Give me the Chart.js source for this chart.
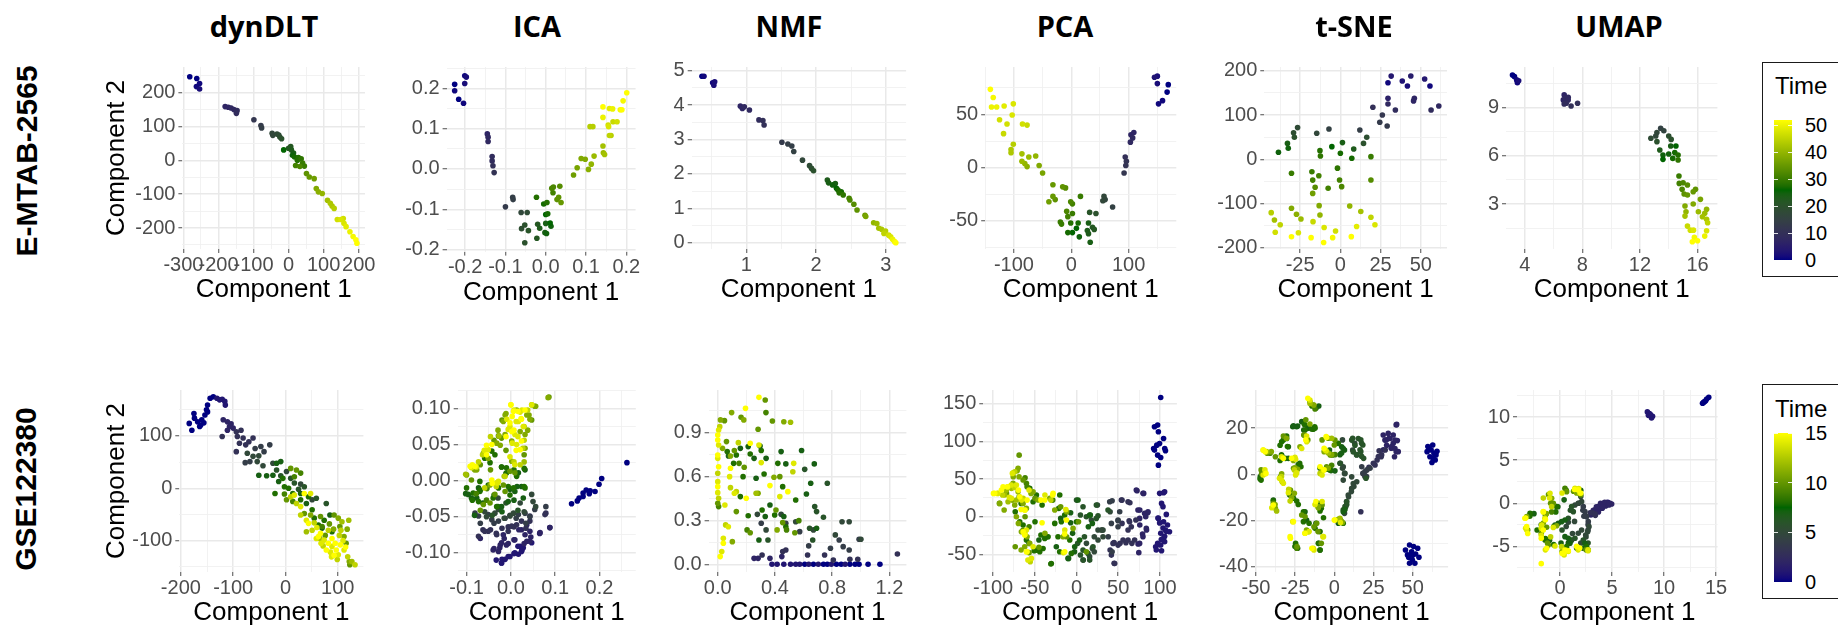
<!DOCTYPE html>
<html><head><meta charset="utf-8">
<script src="https://cdn.jsdelivr.net/npm/chart.js@4"></script>
<style>
html,body{margin:0;padding:0;background:#fff}
body{width:1838px;height:626px;position:relative;overflow:hidden;font-family:"Liberation Sans",Arial,sans-serif}
canvas{position:absolute}
.ttl{position:absolute;font-family:"Open Sans",sans-serif;font-weight:700;font-size:29px;color:#000;transform:translate(-50%,-50%);white-space:nowrap;line-height:1}
.row{position:absolute;font-family:"Liberation Sans",Arial,sans-serif;font-weight:700;font-size:30px;color:#000;transform:translate(-50%,-50%) rotate(-90deg);white-space:nowrap;line-height:1}
.legbox{position:absolute;border:1.5px solid #1a1a1a;box-sizing:border-box;background:#fff}
.legttl{position:absolute;font-size:24px;color:#000;line-height:1;transform:translateY(-50%)}
.leglab{position:absolute;font-size:20px;color:#000;line-height:1;transform:translateY(-50%)}
.bar{position:absolute}
.btick{position:absolute;height:1px;background:rgba(255,255,255,0.85);width:4px}
</style>
</head><body>
<script>
// ---------------- DATA ----------------
const colTitles = ["dynDLT","ICA","NMF","PCA","t-SNE","UMAP"];
const rowTitles = ["E-MTAB-2565","GSE122380"];
const legendTopTicks = [0,10,20,30,40,50];
const legendBottomTicks = [0,5,10,15];

// E-MTAB-2565  [component1, component2, time]
const mtabDynDLT = [
[-282,247,0],[-262,242,0],[-254,227,1],[-263,218,1],[-254,211,2],
[-181,159,7],[-172,157,7],[-164,155,8],[-156,150,8],[-147,147,9],[-149,139,9],
[-99,120,12],[-79,103,13],[-77,96,14],
[-47,80,17],[-45,74,17],[-33,78,18],[-28,75,18],[-25,69,19],[-20,64,20],
[0,36,22],[6,41,22],[8,31,23],[14,22,24],[11,15,25],[-14,31,26],[17,10,27],[28,8,28],[25,0,28],[36,5,29],
[20,-15,31],[32,-18,32],[45,-17,30],[40,-8,30],
[51,-39,34],[59,-49,35],[73,-54,36],
[79,-83,38],[85,-93,39],[96,-98,40],
[111,-118,42],[119,-127,43],[124,-135,43],[130,-142,44],
[139,-175,47],[149,-175,48],[156,-172,47],[158,-186,48],[164,-196,49],
[175,-211,50],[184,-225,51],[192,-235,52],[195,-245,52]];
const mtabICA = [
[-0.226,0.210,0],[-0.226,0.194,1],[-0.201,0.231,1],[-0.197,0.228,2],[-0.201,0.212,2],[-0.216,0.173,0],[-0.204,0.163,1],
[-0.145,0.087,7],[-0.143,0.079,8],[-0.143,0.068,8],
[-0.133,0.031,9],[-0.133,0.020,9],[-0.131,0.008,10],[-0.128,-0.009,11],
[-0.100,-0.094,13],[-0.082,-0.070,14],[-0.081,-0.076,14],
[-0.061,-0.108,17],[-0.046,-0.108,18],[-0.060,-0.148,19],[-0.052,-0.139,20],[-0.043,-0.153,21],[-0.052,-0.183,20],
[-0.023,-0.070,28],[-0.020,-0.137,22],[-0.015,-0.147,23],[-0.022,-0.172,22],
[-0.005,-0.087,27],[0.003,-0.083,28],[0.0,-0.113,26],[0.005,-0.111,27],[0.0,-0.135,24],[-0.002,-0.158,24],[0.002,-0.160,25],[0.011,-0.134,26],[0.013,-0.142,25],
[0.018,-0.059,31],[0.015,-0.048,32],[0.019,-0.045,32],[0.035,-0.043,33],[0.028,-0.076,34],[0.032,-0.070,34],[0.038,-0.083,35],
[0.069,-0.015,36],[0.078,0.003,37],[0.088,0.026,38],[0.098,0.024,38],[0.106,-0.001,39],[0.113,0.012,40],[0.120,0.032,41],
[0.110,0.105,44],[0.117,0.105,44],[0.142,0.057,42],[0.143,0.040,41],[0.146,0.036,42],
[0.142,0.154,52],[0.142,0.128,50],[0.158,0.150,49],[0.155,0.109,47],[0.158,0.083,45],[0.167,0.117,46],
[0.166,0.149,50],[0.192,0.169,51],[0.201,0.189,52],[0.185,0.147,51],[0.189,0.147,52],[0.177,0.117,47],[0.162,0.083,44],[0.156,0.105,48]];
const mtabNMF = [
[0.365,4.84,0],[0.394,4.84,1],[0.518,4.65,1],[0.535,4.58,2],[0.547,4.68,2],
[0.915,3.97,7],[0.943,3.90,7],[0.972,3.95,8],[1.045,3.86,8],
[1.181,3.57,9],[1.238,3.55,10],[1.255,3.42,10],
[1.510,2.92,13],[1.595,2.87,14],[1.652,2.81,14],[1.680,2.65,15],
[1.805,2.40,17],[1.906,2.24,18],[1.935,2.16,19],[1.963,2.09,20],
[2.161,1.82,23],[2.178,1.74,24],[2.235,1.68,25],[2.275,1.72,24],[2.292,1.58,26],[2.314,1.53,27],[2.331,1.45,28],[2.360,1.48,27],[2.388,1.39,29],
[2.473,1.29,31],[2.484,1.24,32],[2.541,1.12,33],[2.586,0.95,34],
[2.700,0.80,36],[2.711,0.76,37],
[2.824,0.58,40],[2.870,0.56,41],[2.898,0.42,42],[2.938,0.39,43],[2.972,0.27,45],[2.994,0.34,44],
[3.040,0.22,47],[3.068,0.17,48],[3.096,0.10,50],[3.125,0.03,51],[3.142,0.0,52]];
const mtabPCA = [
[-141,73.6,52],[-136,66,51],[-139,57,50],[-130,57,50],[-117,58,49],[-101,60,48],[-103,49.5,48],[-125,45,47],[-112,41,47],[-118,32,46],[-101,22,44],[-105,17,43],[-105,14,43],
[-85,41,47],[-77,40,46],[-86,13,42],[-74,10,41],[-62,11,40],[-86,6,41],[-81,4,40],[-77,1,39],[-56,2,38],[-50,-5,37],
[-32,-16,35],[-15,-18,34],[-10,-19,33],[-39,-32,36],[-32,-27,35],[-28,-30,34],
[16,-27,30],[-1,-32,32],[2,-34,31],[-8,-41,32],[-6,-46,31],[2,-43,30],
[-19,-51,30],[-17,-53,30],[-1,-52,28],[12,-52,27],[-6,-61,27],[2,-61,26],[9,-57,26],[14,-65,25],
[30,-52,24],[28,-59,23],[30,-62,23],[33,-70,24],[37,-56,22],[40,-58,22],[32,-42,21],[43,-43,20],
[57,-27,17],[59,-30,16],[55,-31,17],[72,-37,15],
[92,-5,12],[95,2,11],[96,6,11],[94,10,10],
[103,24,8],[107,28,8],[104,31,7],[109,33,7],
[145,85,3],[150,86,2],[150,79,2],[169,78,0],[167,71,0],[159,63,1],[152,60,1]];
const mtabTSNE = [
[-43.0,-120.5,44],[-41.0,-137,42],[-37.4,-148,45],[-40.5,-165,47],
[-38.5,15.8,25],[-32.9,36,24],[-32.4,25,25],[-30.4,-31.6,30],
[-28.6,50,20],[-29.1,60,19],[-26.6,71.6,18],
[-30.4,-110.7,38],[-27.3,-124,39],[-24.5,-135,41],
[-30.4,-175,52],[-26.1,-166,48],
[-17.7,-28,30],[-17.2,-47,31],[-17.2,-77,36],[-15.7,-63,33],[-13.4,-37,31],
[-14.7,59,17],[-12.7,19.6,28],[-12.4,7.5,29],
[-7.1,68.5,15],[-5.3,28.6,26],[-7.6,-65.5,31],
[-13.2,-104.7,38],[-12.7,-125.8,40],[-17.0,-140.9,46],[-18.2,-177,53],[-10.1,-154,48],[-10.4,-188,52],[-4.8,-177,51],[-3.0,-162,47],
[-1.8,-20,29],[-0.5,-46.7,31],[0.8,-61.8,32],[0.0,13.6,27],[1.3,37.7,24],[7.1,2.3,27],[8.3,23.4,23],
[5.8,-105.5,40],[6.8,-174.8,52],[10.1,-152,49],[12.7,-118,42],
[12.1,66.3,14],[14.4,36,20],[16.4,49.7,19],
[19,-46.7,33],[19,6,30],[19,-131,45],[21.5,-148,48],
[20.2,117.5,10],[24.5,83.6,13],[26.1,100.2,12],[29.1,75.3,13],
[29.6,137.9,6],[29.6,125,8],[29.6,173,1],[31.6,188,4],[34.2,111.5,9],
[38.5,177,3],[41.7,165.7,2],[43.8,188.3,5],[46,137.9,7],[45.5,132,7],
[52.4,181.5,4],[55.7,165.7,1],[56.4,111.5,9],[61.2,120.5,8]];
const mtabUMAP = [
[3.15,11.0,0],[3.29,10.9,0],[3.44,10.7,1],[3.49,10.53,1],[3.58,10.64,2],
[6.74,9.77,7],[6.82,9.56,8],[6.68,9.46,7],[7.02,9.62,8],[6.88,9.25,9],[7.22,9.08,10],[7.67,9.25,10],[6.74,9.21,9],[7.02,9.46,8],
[13.44,7.70,15],[13.66,7.55,16],[13.18,7.43,17],[12.76,7.08,18],[13.10,7.22,17],[13.18,6.87,20],[14.0,7.22,19],[14.17,7.01,20],[13.38,6.35,23],[13.6,6.04,25],[13.6,5.77,26],[14.0,6.10,25],[14.14,6.60,24],[14.28,5.83,27],[14.5,6.60,26],[14.42,6.19,27],[14.65,6.04,28],[14.65,5.73,29],
[14.71,4.74,30],[14.73,4.28,31],[15.0,4.32,32],[15.3,4.18,33],[14.93,3.91,32],[15.07,3.62,34],[15.3,3.56,35],[15.7,3.76,35],[15.86,3.91,34],[15.13,2.88,38],[15.7,3.0,38],[16.2,3.29,37],[15.2,2.52,40],[16.06,2.52,41],[16.34,2.21,42],[16.63,2.67,40],[16.5,2.42,41],[16.63,2.05,43],[15.13,2.25,42],[15.3,1.63,46],[15.5,1.38,47],[15.72,1.38,48],[15.78,0.93,51],[15.64,0.66,52],[16.0,0.72,52],[16.5,1.01,50],[16.63,1.34,48],[16.7,1.84,45]];

// GSE122380  [component1, component2, time]
const gseDynDLT = [
[-184,124,0],[-179,111,0],[-175,143,0],[-174,134,0],[-168,127,0],[-164,118,0],[-160,131,0],[-162,121,0],[-156,125,0],[-154,140,0],[-151,150,0],[-149,146,0],[-149,159,0],[-144,172,0],[-138,175,0],[-131,172,1],[-126,169,1],[-121,170,1],[-116,166,1],[-115,159,1],
[-119,131,2],[-111,127,2],[-104,123,2],[-121,99,3],[-111,111,2],[-107,118,2],[-100,115,2],[-94,108,3],[-92,99,3],[-85,111,3],[-88,86,3],[-81,96,3],[-94,70,3],[-76,83,3],[-70,89,3],[-62,96,3],[-58,76,4],[-47,80,4],[-41,70,4],[-30,83,4],[-77,49,4],[-68,51,4],
[-62,61,5],[-51,62,5],[-73,67,5],[-54,51,5],[-43,43,5],[-24,48,5],[-17,35,6],[-9,24,6],[2,32,5],[10,19,6],[17,10,6],[29,8,5],[36,3,6],[25,-2,6],[51,-22,5],[59,-19,6],[78,-29,6],
[-51,25,7],[-36,24,7],[-24,25,7],[-20,-10,8],[-13,13,7],[-5,19,8],[-2,3,8],[6,0,8],[14,-10,8],[29,-10,7],[29,-22,8],[40,-29,7],[44,-16,8],[51,-41,8],[55,-57,8],[63,-70,8],[70,-76,7],[74,-61,8],[85,-51,7],[89,-83,8],[-17,48,7],[-9,51,7],
[10,38,10],[21,35,10],[29,29,9],[17,22,9],[-2,-11,9],[2,-22,10],[14,-25,9],[36,-48,10],[48,-51,11],[67,-54,10],[70,-73,9],[93,-51,10],[101,-57,11],[104,-73,10],[112,-92,11],[116,-105,10],[122,-140,11],[123,-146,10],
[84,-68,10],[92,-78,11],[76,-90,10],[118,-78,11],
[10,-16,13],[17,-13,14],[21,-29,13],[29,-35,14],[36,-10,15],[48,-10,14],[29,-51,13],[40,-61,14],[44,-67,15],[51,-80,13],[59,-96,14],[67,-86,15],[74,-99,14],[82,-105,15],[89,-111,14],[97,-118,15],[101,-127,14],[95,-105,15],[106,-80,13],[112,-118,14],[119,-131,13],[127,-140,12],[133,-146,13],[108,-64,12],[121,-61,12],[82,-80,13],[68,-105,14],[89,-96,15],[40,-83,12],[88,-131,14],
[63,-92,15],[72,-110,13],[78,-118,15],[86,-122,14],[93,-128,15],[99,-136,13],[105,-108,15],[110,-100,14],[115,-112,15],[60,-75,14],[55,-66,13],[66,-96,12],[103,-90,13]];
const gseICA = [
[0,0.105,15],[0.007,0.098,14],[0.016,0.096,15],[0.025,0.098,14],[0.038,0.098,13],[0.047,0.105,12],[0.056,0.103,11],[0.086,0.116,10],[0.003,0.089,15],[0.012,0.082,14],[0.023,0.086,15],[0.030,0.075,13],[0.007,0.070,15],[0.016,0.061,14],[0.030,0.056,13],[0.003,0.052,14],[0.027,0.045,13],[0.012,0.042,15],[-0.002,0.033,14],[0.007,0.026,13],[0.030,0.026,12],[0.021,0.022,13],[-0.002,0.075,14],[-0.011,0.061,15],
[-0.011,0.093,11],[-0.020,0.084,10],[0.041,0.091,11],[0.047,0.084,10],[-0.029,0.070,11],[-0.038,0.056,10],[-0.024,0.049,11],[-0.011,0.042,10],[0.038,0.070,11],[0.030,0.036,10],
[-0.055,0.049,15],[-0.060,0.042,14],[-0.064,0.036,13],[-0.087,0.022,15],[-0.078,0.019,14],[-0.073,0.026,13],[-0.102,0.009,12],[-0.042,-0.004,15],[-0.030,-0.003,14],[-0.046,0.061,13],[-0.027,0.062,12],[-0.033,-0.008,13],[-0.015,0.006,12],
[-0.089,0.001,10],[-0.082,0.015,11],[-0.069,0.022,10],[-0.051,0.031,11],[-0.046,0.015,10],[-0.078,-0.018,9],[-0.055,-0.027,9],[-0.069,-0.041,10],[-0.054,-0.011,9],
[-0.102,-0.018,7],[-0.087,-0.027,8],[-0.069,-0.013,8],[-0.063,-0.031,7],[-0.038,-0.020,8],[-0.021,0.019,8],[-0.011,0.010,7],[0.007,0.015,8],[0.014,-0.008,7],[0.030,-0.008,8],[-0.029,-0.036,7],[-0.011,-0.031,6],[-0.020,-0.043,7],[-0.002,-0.020,8],[0.007,-0.027,7],[0.016,-0.041,6],[-0.042,-0.048,6],[-0.082,-0.048,7],[0.030,0.017,8],
[-0.055,-0.050,5],[-0.038,-0.059,4],[-0.015,-0.052,5],[-0.002,-0.048,5],[0.012,-0.052,4],[0.030,-0.043,5],[0.043,-0.050,4],[0.056,-0.036,5],[0.079,-0.036,4],[0.079,-0.045,3],[-0.029,-0.024,5],[-0.069,-0.059,4],[0.034,-0.059,4],
[-0.063,-0.068,3],[-0.069,-0.080,2],[-0.046,-0.068,3],[-0.033,-0.073,3],[-0.020,-0.066,3],[-0.006,-0.064,3],[0.007,-0.064,3],[0.018,-0.068,2],[0.034,-0.066,3],[0.045,-0.078,2],[0.065,-0.073,2],[0.088,-0.065,2],[-0.015,-0.080,2],[0.007,-0.082,2],[0.030,-0.087,2],[0.043,-0.084,2],[-0.038,-0.094,2],[-0.024,-0.089,2],[-0.006,-0.087,2],[0.016,-0.091,1],[0.025,-0.096,1],[0.007,-0.101,1],[-0.006,-0.105,1],[-0.020,-0.109,1],[-0.021,-0.114,1],[-0.033,-0.110,1],
[0.137,-0.032,0],[0.150,-0.028,0],[0.154,-0.024,0],[0.163,-0.017,0],[0.170,-0.013,0],[0.177,-0.018,0],[0.179,-0.014,0],[0.190,-0.015,0],[0.199,-0.005,0],[0.205,0.003,0],[0.163,-0.022,0],[0.262,0.025,0],
[0.000,0.105,15],[0.006,0.096,15],[0.013,0.098,11],[0.021,0.095,14],[0.032,0.098,15],[0.036,0.091,11],[0.047,0.105,14],[0.054,0.103,11],[0.043,0.085,11],[0.024,0.085,15],[0.017,0.082,14],[-0.002,0.080,15],[-0.006,0.071,14],[0.002,0.068,15],[0.009,0.064,14],[0.021,0.068,11],[0.028,0.075,14],[0.032,0.064,11],[0.024,0.055,15],[0.013,0.050,14],[0.002,0.055,11],[-0.013,0.064,11],[-0.021,0.059,10],[-0.028,0.062,9],[-0.032,0.052,11],[-0.043,0.050,15],[-0.051,0.043,14],[-0.055,0.036,15],[-0.062,0.038,11],[-0.059,0.031,8],[-0.081,0.020,15],[-0.089,0.018,14],[-0.092,0.020,15],[-0.100,0.008,11],[-0.077,0.015,11],[-0.043,0.041,8],[-0.036,0.036,8],[-0.047,0.025,8],[0.002,0.027,11],[0.009,0.022,14],[0.021,0.043,15],[0.032,0.045,11],[0.084,0.115,11],[-0.013,0.091,11],[-0.017,0.082,11],[-0.009,0.085,14],
[-0.021,0.019,7],[-0.010,0.018,8],[-0.002,0.013,10],[0.009,0.011,10],[0.032,0.015,7],[-0.013,0.006,13],[0.013,0.006,8],[0.017,0.011,7],[-0.032,-0.003,14],[-0.043,0.001,15],[-0.047,-0.006,11],[-0.028,-0.001,14],[-0.017,-0.006,10],[-0.006,-0.008,8],[0.006,-0.010,8],[-0.013,-0.015,10],[-0.028,-0.010,8],[-0.036,-0.019,10],[-0.051,-0.006,8],[-0.070,-0.001,8],[-0.073,-0.010,7],[-0.085,-0.017,8],[-0.096,-0.019,7],[-0.100,-0.010,8],[-0.089,-0.024,7],[-0.070,-0.015,8],[-0.077,-0.024,7],[-0.073,-0.029,8],[-0.062,-0.033,10],[-0.040,-0.024,8],[-0.047,-0.031,10],[-0.032,-0.036,8],[-0.021,-0.036,7],[-0.059,-0.010,13],[-0.010,0.011,8],[-0.002,-0.012,7],[0.009,-0.015,7],[0.024,-0.008,7],[0.028,-0.024,7],[0.032,-0.010,8],[0.047,-0.019,5],[0.050,-0.029,5],[0.021,-0.031,5],[-0.006,-0.029,7],
[-0.081,-0.045,4],[-0.073,-0.049,4],[-0.059,-0.043,5],[-0.051,-0.047,4],[-0.036,-0.045,5],[-0.028,-0.040,5],[-0.043,-0.054,4],[-0.028,-0.056,4],[-0.013,-0.052,4],[-0.002,-0.049,5],[0.006,-0.045,5],[0.017,-0.047,4],[0.032,-0.045,4],[0.043,-0.049,3],[0.054,-0.040,4],[0.077,-0.047,3],[0.024,-0.056,3],[0.036,-0.061,2],[0.013,-0.061,3],[0.002,-0.063,3],[-0.006,-0.070,3],[-0.017,-0.075,2],[-0.032,-0.075,3],[-0.051,-0.070,3],[-0.059,-0.070,3],[-0.073,-0.077,3],[-0.021,-0.086,2],[-0.025,-0.093,2],[-0.040,-0.096,2],[-0.028,-0.098,2],[-0.010,-0.089,2],[0.009,-0.082,2],[0.024,-0.068,2],[0.032,-0.075,2],[0.043,-0.070,2],[0.047,-0.086,1],[0.036,-0.084,2],[0.021,-0.091,1],[0.017,-0.102,1],[0.009,-0.100,1],[-0.002,-0.105,1],[-0.013,-0.109,1],[-0.021,-0.114,1],[0.024,-0.098,1],[0.028,-0.093,1],[0.066,-0.072,2],[0.088,-0.065,2],[0.043,-0.056,3]];
const gseNMF = [
[0,0.886,15],[0.006,0.920,14],[0.014,0.943,13],[0,0.852,15],[0.006,0.818,14],[0,0.75,15],[0,0.727,14],[0.006,0.670,15],[0,0.625,13],[0,0.568,14],[0,0.534,15],[0,0.493,14],[0.006,0.455,13],[0.017,0.057,15],[0.028,0.091,14],[0.039,0.148,15],[0.039,0.182,14],[0.055,0.273,13],[0.074,0.261,14],[0.089,0.659,15],[0.083,0.602,14],[0.089,0.527,13],[0.116,0.489,14],[0.199,0.455,15],[0.144,0.834,13],[0.194,1.068,15],[0.288,1.143,15],[0.304,0.698,14],[0.365,0.541,15],[0.434,0.466,14],[0.490,0.5,15],[0.531,0.693,14],[0.525,0.636,13],[0.288,0.818,14],[0.227,0.830,15],[0.130,0.5,13],[0.05,0.409,14],
[0.019,0.989,11],[0.047,0.984,10],[0.097,1.039,11],[0.163,1.007,10],[0.182,0.989,11],[0.332,1.125,10],[0.337,1.039,9],[0.382,0.982,10],[0.462,0.977,11],[0.509,0.973,12],[0.282,0.925,10],[0.033,0.795,11],[0.061,0.841,10],[0.089,0.743,11],[0.116,0.780,10],[0.149,0.693,9],[0.185,0.666,10],[0,0.420,10],[0.006,0.398,9],[0.13,0.364,10],[0.227,0.220,10],[0.205,0.239,9],[0.102,0.159,11],[0.282,0.489,11],[0.393,0.598,11],[0.434,0.602,10],[0.407,0.375,10],[0.454,0.289,10],[0.481,0.239,9],[0.539,0.220,10],[0.415,0.239,11],[0.268,0.489,12],[0.567,0.302,9],
[0.130,0.750,8],[0.075,0.743,7],[0.111,0.693,8],[0.158,0.795,7],[0.177,0.602,8],[0.213,0.807,7],[0.227,0.757,8],[0.254,0.727,7],[0.296,0.811,7],[0.304,0.780,8],[0.268,0.591,7],[0.324,0.620,8],[0.338,0.727,7],[0.42,0.693,8],[0.443,0.773,7],[0.476,0.689,7],[0.586,0.780,7],[0.608,0.652,6],[0.650,0.557,7],[0.675,0.689,7],[0.766,0.557,6],[0.620,0.484,7],[0.545,0.443,8],[0.158,0.466,8],[0.213,0.336,8],[0.288,0.170,7],[0.351,0.170,6],[0.332,0.330,7],[0.310,0.375,8],[0.398,0.341,8],[0.462,0.330,7],[0.476,0.261,8],[0.678,0.398,6],[0.691,0.364,6],[0.642,0.25,6],[0.691,0.25,7],[0.664,0.170,6],[0.739,0.325,6],[0.365,0.409,7],[0.454,0.534,8],[0.066,0.773,8],
[0.277,0.345,5],[0.304,0.284,4],[0.338,0.239,5],[0.443,0.345,5],[0.476,0.284,4],[0.545,0.295,5],[0.573,0.227,4],[0.636,0.130,4],[0.669,0.239,5],[0.747,0.068,3],[0.788,0.114,4],[0.822,0.205,5],[0.849,0.170,4],[0.869,0.295,5],[0.919,0.295,5],[0.877,0.125,4],[0.919,0.102,4],[0.988,0.175,4],[1.001,0.175,5],[0.979,0.039,3],[1.256,0.075,3],[0.254,0.045,2],[0.282,0.045,2],[0.310,0.068,3],[0.365,0.045,2],[0.454,0.091,3],[0.476,0.102,3],[0.448,0.057,2],[0.628,0.068,3],[0.808,0.034,3],[0.924,0.039,3],
[0.379,0.005,1],[0.415,0.005,1],[0.462,0.005,1],[0.509,0.005,1],[0.545,0.005,1],[0.573,0.005,1],[0.608,0.005,0],[0.636,0.005,1],[0.669,0.005,0],[0.703,0.005,1],[0.739,0.005,0],[0.766,0.005,0],[0.794,0.005,1],[0.830,0.005,0],[0.863,0.005,0],[0.891,0.005,1],[0.924,0.005,0],[0.960,0.005,0],[0.988,0.005,0],[1.051,0.005,0],[1.134,0.005,0]];
const gsePCA = [
[101,158.6,0],[93.5,119.6,0],[97.3,121.8,0],[98.2,112.9,0],[104.4,104.1,0],[92.5,90.8,0],[96.3,95.2,0],[99.6,97.4,0],[105.8,90.8,0],[106.7,87.7,0],[97.3,81.9,0],[101,78.8,0],[98.2,68.6,0],[93.5,88.6,0],
[104.4,31.9,1],[102,17.7,1],[107.7,3.1,1],[98.2,-2.2,1],[104.4,-6.6,1],[109.1,-11.1,1],[106.7,-17.7,1],[111.5,-19.9,1],[101,-22.1,1],[104.4,-28.8,1],[97.3,-35.4,1],[101,-37.6,1],[94.9,-39.9,1],[102,-45.2,1],
[97.7,-1.6,1],[99.7,-8.2,1],[103.7,-14.9,1],[107.7,-19.3,1],[105.7,-26.0,1],[101.7,-30.4,1],[97.7,-37.1,1],[105.7,-33.2,1],[103.7,13.4,1],[99.7,31.1,1],[105.7,33.3,1],[95.7,-44.3,1],
[72.6,34.5,2],[80.6,31,2],[54.6,22.1,3],[64,18.6,3],[42.7,21.3,4],[75.9,8.9,2],[85.4,5.3,2],[83,0,2],[71.2,-4.4,3],[75.9,-11.1,2],[84,-17.7,2],[79.2,-23,2],[66.4,-35.4,3],[73.8,-36.3,2],[74.7,-47.8,2],[59.3,-34.5,3],[52.2,-35.4,3],[45.1,-34.5,3],[40.3,-44.3,3],[45.1,-62,3],[63.1,-5.3,3],[54.6,-8.9,3],[49.8,-13.3,4],
[40.3,6.6,5],[49.8,-5.3,4],[38,-26.6,4],[42.7,-46.5,4],[25.1,15.5,5],[30.8,-17.7,5],[21.3,-26.6,5],[19,-42.1,5],[21.3,-46.5,5],[11.9,-35.4,5],[8.1,-57.6,6],[15.7,-53.1,5],[0,22.1,6],[4.7,2.2,6],
[1.8,22.2,7],[7.8,13.3,6],[11.8,0.0,6],[15.8,2.2,7],[17.8,-4.4,5],[23.8,15.5,6],[25.8,-17.7,5],[29.8,-17.7,5],[37.8,8.9,6],[39.8,20.0,4],[41.8,-8.9,4],[49.8,-4.4,4],[51.8,6.7,4],[53.8,22.2,3],[61.8,20.0,3],[63.7,-6.6,3],[61.8,-17.7,3],[65.7,-13.3,3],[71.7,35.5,2],[79.7,31.1,2],[73.7,8.9,2],[75.7,-2.2,2],[81.7,4.4,2],[85.7,6.7,2],[83.7,-15.5,2],[79.7,-26.6,2],[75.7,-35.5,2],[69.7,-31.0,3],[61.8,-31.0,3],[55.8,-31.0,3],[49.8,-37.7,3],[43.8,-35.5,3],[41.8,-51.0,3],[45.8,-62.1,3],[31.8,-26.6,5],[25.8,-31.0,5],[19.8,-39.9,6],[13.8,-48.8,6],[7.8,-44.4,6],[7.8,-57.7,5],[15.8,-57.7,6],[3.8,-31.0,7],[-2.2,-39.9,7],[-6.2,-48.8,8],[-10.2,-55.4,7],[-20.2,-46.6,8],[-22.2,-26.6,8],[-30.2,-62.1,8],[-24.2,-39.9,7],[-18.2,-6.6,8],[25.8,1.3,6],[31.8,-17.7,5],
[23.7,-2.2,6],[16.6,2.2,7],[-7.1,5.3,7],[-14.2,2.2,8],[-19,-2.2,7],[-26.1,-8.9,8],[-7.1,-8,7],[-4.7,-22.1,7],[1.4,-35.4,6],[-2.4,-46.5,7],[4.7,-50.9,6],[-9.5,-55.4,7],[-30.8,-62.9,8],[-35.6,-26.6,8],[-42.7,-24.4,8],[-45.1,-31,7],[-50.8,-45.2,8],[-56.9,-35.4,8],[-49.8,-6.6,8],[-56.9,-13.3,9],[-41.3,15.5,8],[-28.5,22.1,9],[-21.3,11.1,8],[14.2,-13.3,7],[9.5,-26.6,6],[19,-8.9,7],[-73.5,6.6,8],[-66.4,17.7,8],[-61.7,51.8,9],[-59.3,39.9,9],
[-68.8,81.9,10],[-71.2,61.1,11],[-75.9,53.1,11],[-84,31,10],[-92.5,17.7,10],[-76.9,22.1,11],[-68.8,26.6,10],[-54.6,31,11],[-49.8,24.4,10],[-61.7,0,10],[-69.7,-8.9,11],[-64,-17.7,10],[-59.3,-26.6,11],[-73.5,-39.9,10],[-66.4,-44.3,11],[-56.9,-47.8,10],[-45.1,-40.7,10],[-26.1,8.9,11],[-19,13.3,10],[-11.9,6.6,11],[2.4,-6.6,10],[-11.9,-26.6,10],[11.9,-46.5,10],[-37.9,-22.1,11],[-86.8,8.9,11],
[-98.1,31.1,15],[-94.1,31.1,14],[-90.1,35.5,15],[-86.1,28.9,12],[-82.1,39.9,14],[-78.1,37.7,12],[-76.1,44.4,11],[-72.1,42.2,14],[-70.1,33.3,12],[-68.1,26.6,15],[-66.1,22.2,14],[-64.1,17.7,11],[-62.1,8.9,15],[-60.1,11.1,11],[-72.1,22.2,12],[-74.1,15.5,11],[-78.1,24.4,14],[-82.1,20.0,12],[-84.1,35.5,12],[-88.1,39.9,15],[-92.1,17.7,11],[-68.9,53.2,11],[-74.1,59.8,13],[-76.9,57.6,14],[-70.1,64.3,11],[-64.1,48.8,10],[-60.1,44.4,9],[-56.1,37.7,8],[-52.1,33.3,11],[-48.1,28.9,8],[-38.1,22.2,15],[-32.1,24.4,11],[-28.1,31.1,15],[-20.1,28.9,8],[-52.1,20.0,8],[-46.1,22.2,11],[-72.1,0.0,11],[-68.1,-6.6,8],[-64.1,-11.1,8],[-60.1,-17.7,14],[-62.1,-24.4,15],[-66.1,-19.9,11],[-60.1,-31.0,8],[-56.1,-35.5,11],[-52.1,-39.9,14],[-48.1,-44.4,8],[-44.1,-46.6,8],[-54.1,-55.4,14],[-60.1,-46.6,15],[-62.1,-39.9,11],[-38.1,-28.8,8],[-40.1,-42.2,8],[-34.1,-26.6,8],[-12.1,-4.4,15],[-14.1,-17.7,14],[-16.1,-26.6,11],[-14.1,-46.6,15],[-8.1,-31.0,8],[-4.1,-15.5,11],[-0.1,-6.6,8],
[-99.6,31,15],[-94.9,31,14],[-88.7,28.8,13],[-83,39.9,15],[-78.3,42.1,14],[-74.5,39,13],[-69.7,35.4,15],[-80.6,25.7,14],[-75.9,58.5,13],[-66.4,9.7,15],[-61.7,8.9,14],[-64,24.4,13],[-59.3,22.1,15],[-56.9,35.4,14],[-64,-19.9,15],[-61.7,-23,14],[-59.3,-46.5,15],[-58.3,-57.6,14],[-42.7,22.1,15],[-37.9,28.8,14],[-30.8,22.1,13],[-28.5,28.8,15],[-12.8,9.7,14],[-14.2,-23,15],[-15.7,-47.8,14],[-55.5,-59.8,13],[-41.3,-8,15]];
const gseTSNE = [
[59.7,12,0],[61.8,10.5,0],[63.6,9.1,0],[61,7.6,0],[64.4,6.2,0],[62.3,5.1,0],[59.2,9.8,0],[64.9,8.4,0],[62.8,12.7,0],[60.5,11.2,0],[63.0,7.0,0],[65.5,10.0,0],
[48,-30.6,0],[50.6,-31.3,0],[53.2,-32,0],[49.3,-33.5,0],[51.9,-34.5,0],[46.7,-34.9,0],[49.8,-37.1,0],[54,-35.9,0],[48,-38.5,0],[51.4,-38.5,0],[45.4,-32.8,0],[47.5,-36.0,0],[50.0,-35.0,0],
[39.5,21.4,2],[31.2,17,2],[35,15.6,2],[40.2,14.6,2],[37.6,13.4,2],[36.3,11.3,2],[39.5,9.8,2],[38.4,7.6,2],[32.5,10.5,3],[28.6,10.2,3],[29.9,7.6,3],[27.3,6.2,3],[26,4,3],[22.1,3,3],[33.2,14.9,2],[16.9,-16.2,3],
[17.5,3.3,4],[19.6,1.2,4],[20.6,-1.0,4],[22.8,2.6,4],[24.9,4.8,3],[28.1,7.7,3],[30.2,8.4,3],[31.3,10.6,2],[33.4,12.6,2],[32.3,14.8,2],[35.5,15.5,2],[37.6,17.0,2],[38.7,14.8,2],[36.6,12.0,2],[39.8,21.6,2],[34.4,17.7,2],[38.7,11.2,2],[40.8,9.8,2],
[20.8,1.9,4],[18.2,0.4,4],[19.5,-1,4],[14.3,-3.2,5],[12.5,-5.3,5],[10.9,-7.5,5],[9.1,-9.7,5],[7.8,-11.8,5],[7.3,-14,5],[6.5,-16.9,5],[5.2,14.9,5],[3.9,4.8,5],[5.2,2.6,5],[6.5,0.4,5],[13,13.4,5],[11.7,10.5,5],[14.3,8.4,5],
[3.6,4.8,6],[5.7,3.3,5],[6.8,0.4,5],[5.7,-2.5,5],[11.1,-1.1,5],[12.1,-4.0,5],[11.1,-6.1,5],[8.9,-9.0,5],[7.9,-11.9,6],[6.8,-14.0,6],[5.7,-16.2,7],
[11.1,14.8,6],[13.2,12.6,6],[12.1,9.7,6],[15.3,15.5,6],[17.4,13.4,6],[16.4,10.6,6],[14.2,8.5,6],[17.4,7.8,6],
[16.9,14.9,6],[18.2,12.7,6],[16.9,9.8,6],[18.7,6.9,6],[20.2,-1.7,6],[3.9,-19.8,7],[5.7,-15.4,6],[2.6,-21.2,7],[6.5,10.5,7],[-3.1,10.5,7],[-1.3,8.4,7],[-5.2,2.2,7],[-2.1,1.6,7],[-9.1,2.6,8],[-16.9,19.9,7],[-19.5,19.2,7],[-23.4,20.9,7],[-26.5,20.6,7],[-13.5,19.5,8],[-12.5,20.6,8],[-30.4,16.6,8],[-32.5,14.9,8],[-29.9,12,8],[-47.2,-1,7],[-46.7,-2.5,8],[-44.6,1.2,8],[-38.9,-11.1,7],[-18.7,-16.2,7],[-17.7,-19.8,7],[-16.1,-21.2,8],[-10.4,-12.6,7],[-8.3,-14.7,8],[-11.7,-21.2,7],[-9.1,-24.8,8],[-9.9,-29.9,7],[-9.1,-32.8,7],[-23.4,-32,7],[-24.7,-29.9,8],[-28.6,-8.9,8],[-26,-10.4,8],[-22.1,4.8,8],[-21.3,3.3,8],[-33.7,8.4,8],[-31.2,6.9,8],[-14.3,29.6,8],[-11.7,28.6,7],[-9.9,29.6,7],[11.7,15.6,6],
[-26.1,21.0,7],[-24.0,20.6,7],[-20.8,22.8,7],[-19.1,21.6,8],[-16.5,20.2,7],[-14.4,19.6,8],[-12.3,19.9,8],[-18.7,19.2,8],
[-31.4,16.3,8],[-33.6,14.1,8],[-34.6,12.6,8],[-29.3,11.9,7],[-30.4,15.5,8],
[2.5,13.4,8],[4.7,11.9,7],[5.7,11.2,7],[3.6,8.5,7],[4.7,9.2,7],[0.4,1.5,7],[-2.8,1.9,8],
[-33.6,8.1,8],[-34.6,6.0,8],[-29.3,6.9,7],[-23.0,4.2,8],[-47.4,-1.9,8],[-24.0,-11.6,8],[-23.0,-13.1,8],[-38.9,-11.6,8],[-9.1,-15.9,8],[-6.9,-18.8,8],[-19.7,-16.2,8],[-19.7,-20.5,8],[-12.3,-23.4,8],[-10.2,-29.9,8],[-9.1,-32.8,8],[-25.1,-31.3,8],[5.7,-21.2,8],[6.8,-15.2,7],[7.9,-13.1,6],
[-46.7,1.9,10],[-44.1,0.4,10],[-42.8,9.1,10],[-40.2,9.8,11],[-37.6,7.6,10],[-34.3,-1,10],[-33.2,-3.2,11],[-26,2.6,10],[-23.4,2.2,11],[-19.5,17,10],[-16.9,14.9,10],[-7.8,14.9,10],[-3.9,15.6,10],[-6.5,9.8,11],[-7.8,1.9,10],[-3.9,2.6,11],[0,12.7,10],[-2.6,8.4,10],[-28,-6.8,10],[-25.5,-8.2,11],[-38.9,-12.6,10],[-37.6,-14.7,11],[-20.8,-17.6,10],[-17.7,-24.1,11],[-13,-22.7,10],[-10.4,-14,11],[-7.8,-13.3,10],[-10.4,-24.8,10],[-8.3,-29.9,10],[-23.8,-31.3,10],[2.6,-19.5,10],[5.2,-20.9,11],[-15.6,31.5,10],[-13,30,11],[-18.2,23.6,10],[-15.6,21.8,11],[-32.5,16.6,10],[-30.6,15.6,11],
[-15.5,30.7,12],[-13.4,30.0,10],[-12.3,28.3,9],[-19.1,17.0,10],[-21.9,11.9,11],[-1.7,15.6,12],[0.4,14.8,10],[-3.8,9.2,12],[-1.7,8.5,11],[0.4,8.5,9],[-4.9,3.3,10],[-1.7,3.9,9],[-41.0,9.1,9],[-26.1,6.0,11],[-25.1,2.8,11],[-33.6,0.2,11],[-46.4,0.2,10],[-27.2,-10.2,11],[-37.8,-13.1,11],[-10.2,-14.5,11],[-18.7,-18.3,10],[-11.2,-21.2,10],[-16.5,-24.8,11],[-24.0,-32.0,9],[3.6,-19.1,12],[4.7,-20.5,10],
[-45.4,10.5,14],[-44.1,9.8,15],[-45.4,-0.3,14],[-43.6,0.4,15],[-33.7,7.6,14],[-32.5,6.9,15],[-33.7,-1,13],[-32.5,-3.9,14],[-27.3,6.9,15],[-24.7,6.5,14],[-25.5,1.9,13],[-24.7,-0.3,14],[-18.2,14.9,15],[-17.7,16.6,14],[-16.9,32.9,15],[-15.6,32.2,14],[-29.1,-6.5,13],[-28,-27.7,15],[-26.5,-20.5,14],[-18.7,-25.5,15],[-16.1,-24.8,14],[-14.3,-32,15],[-13,-32.8,14],[-7.3,-27,14],[-11.7,-11.8,15],[-7.8,-11.8,14],[-6.5,1.9,15],[-7.8,-0.3,14],[-6.5,11.3,15],[-5.2,10.2,14],[-5.2,16.3,15],[0,-19.8,15],[3.9,-20.9,14],[-38.9,-13.3,15],[-35,-1.7,14],
[-17.6,14.1,14],[-20.8,11.2,14],[-4.9,15.9,15],[-5.9,10.6,14],[-9.1,3.3,15],[-7.0,1.9,14],[-9.1,0.4,13],[-45.3,10.5,15],[-43.2,9.8,12],[-25.1,7.4,14],[-24.0,0.6,14],[-33.6,-2.7,14],[-44.3,1.9,14],[-29.3,-8.0,14],[-28.2,-11.6,13],[-39.9,-14.5,14],[-36.8,-15.9,12],[-12.3,-13.1,14],[-26.1,-20.5,15],[-18.7,-25.5,14],[-6.9,-27.0,14],[-13.4,-32.0,14],[-28.2,-27.0,15],[0.4,-19.8,15]];
const gseUMAP = [
[13.9,11.8,0],[14.1,12.1,0],[14.3,12.3,0],[13.7,11.6,0],[14.0,11.9,0],[13.8,11.7,0],[8.4,10.6,1],[8.6,10.4,1],[8.9,10.1,1],[8.8,9.9,1],[8.5,10.2,1],[8.7,10.3,1],
[2.98,-1.36,2],[3.21,-0.97,2],[3.43,-0.70,2],[3.69,-0.39,2],[3.94,-0.20,2],[4.17,0.0,2],[4.49,0.08,2],[4.81,0.0,2],[4.97,-0.08,2],[3.37,-1.24,3],[3.69,-0.85,2],[4.07,-0.58,2],[4.39,-0.31,2],[4.71,-0.20,2],[3.1,-1.1,3],[3.8,-0.6,2],[4.3,-0.1,2],[4.6,0.1,1],
[2.9,-1.1,3],[3.2,-0.8,2],[3.5,-0.4,2],[3.9,0,2],[4.3,0.1,2],[4.7,0,2],[3.7,-1,2],[4.1,-0.4,2],[3.4,-1.4,3],
[1.44,-0.2,5],[1.76,0.0,5],[2.08,0.19,5],[2.24,-0.39,4],[2.40,-0.97,4],[2.56,-1.55,4],[2.72,-2.13,4],[2.79,-2.71,5],[2.66,-3.29,5],[2.47,-3.68,5],[1.76,-3.48,5],[2.08,-3.09,5],[2.24,-4.25,6],
[1.8,0,4],[2.0,0.8,5],[2.2,-0.8,4],[2.3,-1.5,4],[1.4,-2.1,5],[0.8,-2.2,5],[2.7,-2.5,4],[2.7,-3.1,4],[2.5,-3.9,5],[2.0,-4.6,5],[1.2,-3.5,5],[0.6,-2.7,5],[0.2,-3.1,6],
[1.12,-0.39,6],[1.28,-0.97,6],[0.80,-1.74,6],[0.48,-1.93,7],[0.16,-2.13,7],[-0.16,-2.32,7],[-0.48,-2.51,7],[0.48,-3.87,7],[0.80,-4.06,7],[1.12,-4.25,6],[1.44,-4.06,6],[0.96,-4.64,7],[0.64,-5.03,8],[2.40,-4.64,7],[2.56,-5.03,8],[2.72,-5.41,8],[-0.32,-0.39,8],[-2.88,-1.16,8],[-1.44,-4.25,8],
[1.6,1.5,7],[2.0,1.5,7],[0.6,1.5,8],[0.4,0.4,7],[1.0,-0.8,6],[-0.2,-0.4,7],[-0.4,-1,8],[1.1,-4.3,6],[0.8,-4.6,7],[0.1,-4.6,7],[-0.6,-4.8,8],[-1,-4.3,7],[-1.4,-4.1,8],[-2.2,-3.1,8],[-1.8,-2.5,8],[-2.9,-1.5,8],[-2.5,-1.2,7],[2.2,-5.2,7],[2.7,-4.6,6],[1.6,-5.2,7],
[0.48,1.74,9],[0.64,1.35,10],[1.6,1.2,11],[2.0,1.0,10],[-0.8,0.58,11],[-0.64,-0.01,10],[-1.3,-1.2,11],[-3.2,-1.55,11],[-1.28,-2.78,10],[-0.32,-2.6,11],[-1.12,-4.83,10],
[-1.1,1,10],[-0.9,0,10],[-0.8,-1,9],[-1.4,-1.4,10],[-1.6,-2.3,11],[-1.8,-3.5,10],[-1.2,-4.6,10],[0.2,-5.6,11],[0.6,-5.4,10],[1.3,1.4,10],[1.8,1.2,11],[-3.1,-3.1,10],[-0.6,-2.7,9],[2.5,-5.4,10],
[1.44,1.74,14],[1.76,1.55,15],[1.92,1.16,14],[-0.96,1.16,14],[-0.8,-0.39,13],[-1.6,-0.97,15],[-1.45,-1.74,14],[-3.37,-1.74,15],[-3.2,-2.71,15],[-3.2,-3.1,14],[-1.76,-2.51,14],[-1.6,-3.1,15],[-1.8,-3.7,14],[-1.8,-4.06,15],[-1.28,-5.22,15],[-0.48,-4.96,14],[-0.64,-2.8,14],[0.16,-5.03,13],[0.48,-5.41,15],[0.32,-5.8,15],[0.8,-5.6,14],[1.6,-5.0,15],[1.75,-5.4,14],[1.9,-5.2,15],[2.7,-5.5,14],
[0.2,1.2,14],[1.4,1.6,15],[1.8,1.7,14],[2.0,1.2,15],[-1.6,-1,14],[-1.4,-1.9,15],[-1.8,-2.9,14],[-3.3,-1.7,15],[-3.3,-2.9,14],[-3.1,-3.5,15],[-1.8,-7.0,15],[0.2,-5.8,15],[0.4,-6.0,14],[0.8,-5.5,15],[2.7,-5.4,14],[-1.4,-5.4,14],[-0.9,-3.9,13],[-1.6,0.6,13],[-1.0,0.6,14]];

// tick values per axis
const mtabDynDLTxTicks=[-300,-200,-100,0,100,200], mtabDynDLTyTicks=[-200,-100,0,100,200];
const mtabICAxTicks=[-0.2,-0.1,0,0.1,0.2], mtabICAyTicks=[-0.2,-0.1,0,0.1,0.2];
const mtabNMFxTicks=[1,2,3], mtabNMFyTicks=[0,1,2,3,4,5];
const mtabPCAxTicks=[-100,0,100], mtabPCAyTicks=[-50,0,50];
const mtabTSNExTicks=[-25,0,25,50], mtabTSNEyTicks=[-200,-100,0,100,200];
const mtabUMAPxTicks=[4,8,12,16], mtabUMAPyTicks=[3,6,9];
const gseDynDLTxTicks=[-200,-100,0,100], gseDynDLTyTicks=[-100,0,100];
const gseICAxTicks=[-0.1,0,0.1,0.2], gseICAyTicks=[-0.1,-0.05,0,0.05,0.1];
const gseNMFxTicks=[0,0.4,0.8,1.2], gseNMFyTicks=[0,0.3,0.6,0.9];
const gsePCAxTicks=[-100,-50,0,50,100], gsePCAyTicks=[-50,0,50,100,150];
const gseTSNExTicks=[-50,-25,0,25,50], gseTSNEyTicks=[-40,-20,0,20];
const gseUMAPxTicks=[0,5,10,15], gseUMAPyTicks=[-5,0,5,10];

// ---------------- COLOUR (navy -> darkgreen -> yellow, Lab interpolation) ----------------
function s2l(c){c/=255;return c<=0.04045?c/12.92:Math.pow((c+0.055)/1.055,2.4);}
function l2s(c){c=c<=0.0031308?12.92*c:1.055*Math.pow(c,1/2.4)-0.055;return Math.round(Math.max(0,Math.min(1,c))*255);}
function rgb2lab(rgb){const r=s2l(rgb[0]),g=s2l(rgb[1]),b=s2l(rgb[2]);
 const X=(0.4124*r+0.3576*g+0.1805*b)/0.95047,Y=0.2126*r+0.7152*g+0.0722*b,Z=(0.0193*r+0.1192*g+0.9505*b)/1.08883;
 const f=t=>t>0.008856?Math.cbrt(t):7.787*t+16/116;const fx=f(X),fy=f(Y),fz=f(Z);
 return [116*fy-16,500*(fx-fy),200*(fy-fz)];}
function lab2rgb(lab){const fy=(lab[0]+16)/116,fx=fy+lab[1]/500,fz=fy-lab[2]/200;
 const inv=t=>{const t3=t*t*t;return t3>0.008856?t3:(t-16/116)/7.787;};
 const X=inv(fx)*0.95047,Y=inv(fy),Z=inv(fz)*1.08883;
 return [l2s(3.2406*X-1.5372*Y-0.4986*Z),l2s(-0.9689*X+1.8758*Y+0.0415*Z),l2s(0.0557*X-0.2040*Y+1.0570*Z)];}
const LAB=[rgb2lab([0,0,128]),rgb2lab([0,100,0]),rgb2lab([255,255,0])];
function timeColor(t,tMax){let f=Math.max(0,Math.min(1,t/tMax));let a,b,u;
 if(f<0.5){a=LAB[0];b=LAB[1];u=f*2;}else{a=LAB[1];b=LAB[2];u=(f-0.5)*2;}
 const c=lab2rgb([a[0]+(b[0]-a[0])*u,a[1]+(b[1]-a[1])*u,a[2]+(b[2]-a[2])*u]);
 return 'rgb('+c[0]+','+c[1]+','+c[2]+')';}

// ---------------- LAYOUT ----------------
const panels=[
 {d:mtabDynDLT,xt:mtabDynDLTxTicks,yt:mtabDynDLTyTicks,xd:0,yd:0,xMin:-303,xMax:218,yMin:-262,yMax:276,L:182.4,R:365,T:67,B:249,tMax:52,yTitle:true},
 {d:mtabICA,xt:mtabICAxTicks,yt:mtabICAyTicks,xd:1,yd:1,xMin:-0.246,xMax:0.223,yMin:-0.205,yMax:0.253,L:446.6,R:635.6,T:67,B:251.6,tMax:52},
 {d:mtabNMF,xt:mtabNMFxTicks,yt:mtabNMFyTicks,xd:0,yd:0,xMin:0.218,xMax:3.289,yMin:-0.183,yMax:5.108,L:691.7,R:906.1,T:67,B:249,tMax:52},
 {d:mtabPCA,xt:mtabPCAxTicks,yt:mtabPCAyTicks,xd:0,yd:0,xMin:-150,xMax:183,yMin:-76.4,yMax:94.6,L:985.2,R:1176.3,T:67,B:249,tMax:52},
 {d:mtabTSNE,xt:mtabTSNExTicks,yt:mtabTSNEyTicks,xd:0,yd:0,xMin:-47.3,xMax:66.3,yMin:-202.7,yMax:208.6,L:1264.3,R:1447,T:67,B:249,tMax:52},
 {d:mtabUMAP,xt:mtabUMAPxTicks,yt:mtabUMAPyTicks,xd:0,yd:0,xMin:2.7,xMax:17.38,yMin:0.21,yMax:11.5,L:1506,R:1717.4,T:67,B:249,tMax:52},
 {d:gseDynDLT,xt:gseDynDLTxTicks,yt:gseDynDLTyTicks,xd:0,yd:0,xMin:-203,xMax:149,yMin:-159.9,yMax:187.8,L:179.3,R:363.4,T:390,B:572,tMax:15,yTitle:true},
 {d:gseICA,xt:gseICAxTicks,yt:gseICAyTicks,xd:1,yd:2,xMin:-0.12,xMax:0.282,yMin:-0.1265,yMax:0.1256,L:457.7,R:635.8,T:390,B:572,tMax:15},
 {d:gseNMF,xt:gseNMFxTicks,yt:gseNMFyTicks,xd:1,yd:1,xMin:-0.064,xMax:1.319,yMin:-0.048,yMax:1.193,L:708.6,R:906.4,T:390,B:572,tMax:15},
 {d:gsePCA,xt:gsePCAxTicks,yt:gsePCAyTicks,xd:0,yd:0,xMin:-111.8,xMax:120.4,yMin:-73.5,yMax:168.5,L:983.3,R:1176.9,T:390,B:572,tMax:15},
 {d:gseTSNE,xt:gseTSNExTicks,yt:gseTSNEyTicks,xd:0,yd:0,xMin:-50.6,xMax:72.6,yMin:-42.3,yMax:36.5,L:1255,R:1448.1,T:390,B:572,tMax:15},
 {d:gseUMAP,xt:gseUMAPxTicks,yt:gseUMAPyTicks,xd:0,yd:0,xMin:-4.13,xMax:15.15,yMin:-7.97,yMax:13.14,L:1517,R:1717.6,T:390,B:572,tMax:15}
];
const colTitlePos=[[264,25],[537,25],[789,25],[1065,25],[1354,25],[1619,25]];
const rowTitlePos=[[27,161],[26,489]];

const TICK_FONT={family:'"Liberation Sans", Arial, sans-serif',size:20};
const TITLE_FONT={family:'"Liberation Sans", Arial, sans-serif',size:26};
const XH=56.6;

function buildTicks(major,min,max){
  const step=major[1]-major[0];const out=[];
  major.forEach(v=>{if(v>=min-1e-9&&v<=max+1e-9)out.push({value:v,mn:false});});
  for(let i=-1;i<major.length;i++){const v=major[0]+step*(i+0.5);if(v>=min&&v<=max)out.push({value:v,mn:true});}
  out.sort((a,b)=>a.value-b.value);return out;
}
function axisOpts(major,dec,min,max,isX,fixedSize,showTitle,titleText){
  return {
    type:'linear',position:isX?'bottom':'left',min:min,max:max,
    afterBuildTicks:s=>{s.ticks=buildTicks(major,min,max);},
    afterFit:s=>{if(isX)s.height=fixedSize;else s.width=fixedSize;},
    ticks:{autoSkip:false,maxRotation:0,minRotation:0,padding:isX?0:3,color:'#4d4d4d',font:TICK_FONT,
      callback:function(v,i,t){return t[i]&&t[i].mn?'':Number(v).toFixed(dec);}},
    grid:{drawTicks:true,tickLength:4,tickWidth:1,
      color:c=>(c.tick&&c.tick.mn)?'#f1f1f1':'#e9e9e9',
      lineWidth:c=>(c.tick&&c.tick.mn)?0.9:1.5,
      tickColor:c=>(c.tick&&c.tick.mn)?'rgba(0,0,0,0)':'#4d4d4d'},
    border:{display:false},
    title:{display:showTitle,text:titleText,color:'#000',font:TITLE_FONT,padding:0}
  };
}

panels.forEach(p=>{
  const yw=p.yTitle?p.L-101.4:60;
  const left=Math.floor(p.L-yw-4), top=Math.floor(p.T-16);
  const padL=p.L-yw-left, padT=p.T-top;
  const w=Math.ceil(p.R-left+32), h=Math.ceil(p.B-top+XH+2);
  const padR=w-(p.R-left), padB=h-(p.B-top)-XH;
  const c=document.createElement('canvas');
  c.width=w;c.height=h;c.style.left=left+'px';c.style.top=top+'px';c.style.width=w+'px';c.style.height=h+'px';
  document.body.appendChild(c);
  const pts=p.d.slice().sort((a,b)=>a[2]-b[2]);
  new Chart(c,{type:'scatter',
    data:{datasets:[{data:pts.map(q=>({x:q[0],y:q[1]})),backgroundColor:pts.map(q=>timeColor(q[2],p.tMax)),
      borderWidth:0,pointRadius:2.8,pointHoverRadius:2.8}]},
    options:{responsive:false,animation:false,devicePixelRatio:1,events:[],
      layout:{padding:{left:padL,right:padR,top:padT,bottom:padB}},
      plugins:{legend:{display:false},tooltip:{enabled:false}},
      scales:{x:axisOpts(p.xt,p.xd,p.xMin,p.xMax,true,XH,true,'Component 1'),
              y:axisOpts(p.yt,p.yd,p.yMin,p.yMax,false,yw,!!p.yTitle,'Component 2')}}});
});

// titles
colTitles.forEach((t,i)=>{const d=document.createElement('div');d.className='ttl';d.textContent=t;
  d.style.left=colTitlePos[i][0]+'px';d.style.top=colTitlePos[i][1]+'px';document.body.appendChild(d);});
rowTitles.forEach((t,i)=>{const d=document.createElement('div');d.className='row';d.textContent=t;
  d.style.left=rowTitlePos[i][0]+'px';d.style.top=rowTitlePos[i][1]+'px';document.body.appendChild(d);});

// legends
function legend(boxTop,barTop,barBottom,tMax,ticks){
  const box=document.createElement('div');box.className='legbox';
  box.style.left='1762px';box.style.top=boxTop+'px';box.style.width='110px';box.style.height='215px';
  document.body.appendChild(box);
  const tt=document.createElement('div');tt.className='legttl';tt.textContent='Time';
  tt.style.left='1775px';tt.style.top=(boxTop+24.5)+'px';document.body.appendChild(tt);
  const stops=[];for(let i=0;i<=40;i++){const t=tMax*i/40;stops.push(timeColor(t,tMax)+' '+(i*2.5)+'%');}
  const bar=document.createElement('div');bar.className='bar';
  bar.style.left='1774px';bar.style.top=barTop+'px';bar.style.width='18.3px';bar.style.height=(barBottom-barTop)+'px';
  bar.style.background='linear-gradient(to top,'+stops.join(',')+')';document.body.appendChild(bar);
  const pxPer=(barBottom-barTop)/tMax;
  ticks.forEach(t=>{const y=barBottom-t*pxPer;
    const l=document.createElement('div');l.className='leglab';l.textContent=String(t);
    l.style.left='1805px';l.style.top=y+'px';document.body.appendChild(l);
    [1774,1788.3].forEach(x=>{const k=document.createElement('div');k.className='btick';k.style.left=x+'px';k.style.top=(y-0.5)+'px';document.body.appendChild(k);});
  });
}
legend(61.7,120,260,52,legendTopTicks);
legend(384,433,582,15,legendBottomTicks);
</script>
</body></html>
